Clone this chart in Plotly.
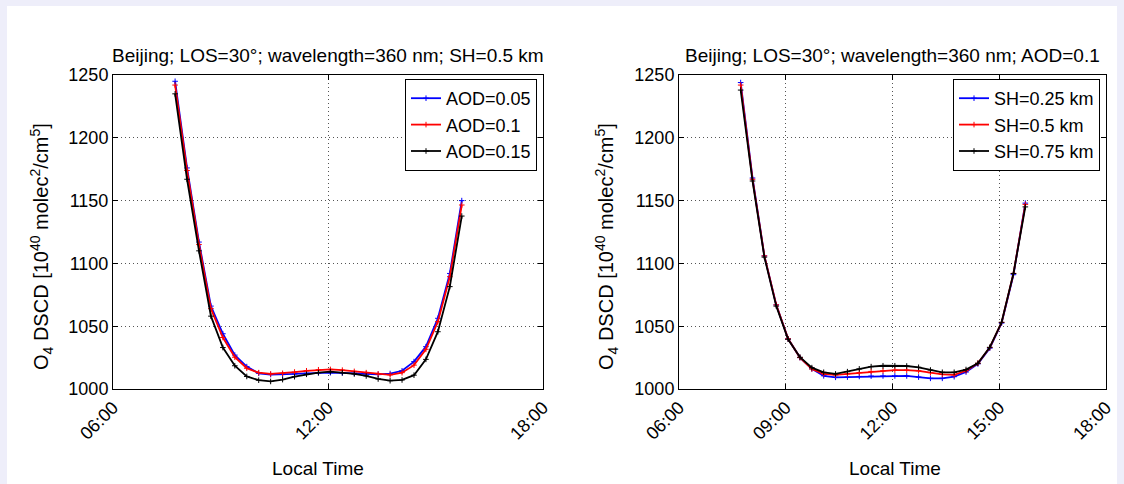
import plotly.graph_objects as go

W, H = 1124, 484

# ---- data ----
times = [7.733 + n / 3 for n in range(25)]  # local time, hours (20-min steps)

left_labels = ["AOD=0.05", "AOD=0.1", "AOD=0.15"]
aod_005 = [1245, 1176, 1117, 1066, 1044, 1027, 1017.8, 1012.5, 1011.5, 1011.5, 1012, 1012.5,
           1013, 1013, 1012.8, 1012.5, 1012, 1011.7, 1012.3, 1014.5, 1021.8, 1033.7, 1056.3, 1092, 1150]
aod_01 = [1242, 1174, 1115, 1064, 1041, 1025.3, 1016.5, 1013, 1012, 1012.5, 1013.5, 1014.5,
          1015.3, 1015.6, 1015, 1014, 1013, 1012, 1011.3, 1013, 1019, 1031.6, 1053.6, 1089.4, 1146.5]
aod_015 = [1235, 1167, 1110, 1058, 1033, 1018.5, 1010, 1007, 1006, 1007.5, 1009.8, 1011.7,
           1013, 1013.8, 1013, 1012, 1010.4, 1008, 1006.6, 1007.2, 1011, 1023.6, 1045.6, 1081.5, 1137.7]

right_labels = ["SH=0.25 km", "SH=0.5 km", "SH=0.75 km"]
sh_025 = [1244, 1168, 1106, 1067, 1040, 1025, 1016, 1010.5, 1009.3, 1009.5, 1010, 1010.3,
          1010.4, 1010.4, 1010.4, 1009.5, 1008.5, 1008.5, 1009.8, 1013.5, 1020, 1032.5, 1052.5, 1091, 1148]
sh_05 = [1242, 1167, 1106, 1067, 1040, 1025, 1016, 1012, 1011.2, 1012, 1013, 1014,
         1014.5, 1015, 1015, 1014.5, 1013, 1011.6, 1011.2, 1014.5, 1020.5, 1033, 1053, 1092, 1147]
sh_075 = [1238, 1165.6, 1105, 1066, 1039.6, 1025.3, 1017, 1013.3, 1012, 1013.8, 1016, 1017.8,
          1018.5, 1018.5, 1018.3, 1017.3, 1015.1, 1013.3, 1013.3, 1015.5, 1020.5, 1033.2, 1053.1, 1092, 1145]

colors = ["#0000FF", "#FF0000", "#000000"]
left_ticks = [6, 12, 18]
right_ticks = [6, 9, 12, 15, 18]
y_ticks = [1000, 1050, 1100, 1150, 1200, 1250]

def hhmm(v):
    return "%02d:00" % v

FONT = "Liberation Sans, Arial, sans-serif"
fig = go.Figure()

for ys, name, c in zip([aod_005, aod_01, aod_015], left_labels, colors):
    fig.add_trace(go.Scatter(x=times, y=ys, name=name, mode="lines+markers",
                             line=dict(color=c, width=1.8),
                             marker=dict(symbol="cross-thin", size=4, line=dict(color=c, width=1)),
                             xaxis="x", yaxis="y", legend="legend"))
for ys, name, c in zip([sh_025, sh_05, sh_075], right_labels, colors):
    fig.add_trace(go.Scatter(x=times, y=ys, name=name, mode="lines+markers",
                             line=dict(color=c, width=1.8),
                             marker=dict(symbol="cross-thin", size=4, line=dict(color=c, width=1)),
                             xaxis="x2", yaxis="y2", legend="legend2"))

def px(x):
    return x / W

def py(y):
    return 1 - y / H

axis_common = dict(showline=True, linecolor="#000", linewidth=1, mirror="ticks",
                   ticks="inside", ticklen=5, tickcolor="#000", showgrid=True,
                   gridcolor="#555", griddash="1px,3px", gridwidth=1, zeroline=False,
                   automargin=False,
                   tickfont=dict(family=FONT, size=18, color="#000"))

fig.update_layout(
    template="none",
    width=W, height=H, margin=dict(l=0, r=0, t=0, b=0, pad=0), autosize=False,
    paper_bgcolor="#EEEEFA", plot_bgcolor="#FFFFFF",
    font=dict(family=FONT, color="#000"),
    xaxis=dict(domain=[px(113), px(543)], range=[6, 18], tickvals=left_ticks,
               ticktext=[hhmm(v) for v in left_ticks], tickangle=-45, anchor="y", **axis_common),
    yaxis=dict(domain=[py(389), py(75)], range=[1000, 1250], tickvals=y_ticks, anchor="x", **axis_common),
    xaxis2=dict(domain=[px(679), px(1106)], range=[6, 18], tickvals=right_ticks,
                ticktext=[hhmm(v) for v in right_ticks], tickangle=-45, anchor="y2", **axis_common),
    yaxis2=dict(domain=[py(389), py(75)], range=[1000, 1250], tickvals=y_ticks, anchor="x2", **axis_common),
    legend=dict(x=px(537), y=py(79), xanchor="right", yanchor="top", bgcolor="#FFF",
                bordercolor="#000", borderwidth=1, font=dict(family=FONT, size=18),
                entrywidthmode="pixels", entrywidth=100),
    legend2=dict(x=px(1100), y=py(79), xanchor="right", yanchor="top", bgcolor="#FFF",
                 bordercolor="#000", borderwidth=1, font=dict(family=FONT, size=18),
                 entrywidthmode="pixels", entrywidth=113),
    shapes=[dict(type="rect", xref="paper", yref="paper", x0=px(7), x1=px(1117), y0=0, y1=py(6),
                 fillcolor="#FFFFFF", line=dict(width=0), layer="below")],
    showlegend=True,
)

ytitle = "O<sub>4</sub> DSCD [10<sup>40</sup> molec<sup>2</sup>/cm<sup>5</sup>]"
ann = [
    dict(text="Beijing; LOS=30°; wavelength=360 nm; SH=0.5 km", x=px(328), y=py(55), size=19),
    dict(text="Beijing; LOS=30°; wavelength=360 nm; AOD=0.1", x=px(892), y=py(55), size=19),
    dict(text="Local Time", x=px(318), y=py(468), size=19),
    dict(text="Local Time", x=px(895), y=py(468), size=19),
    dict(text=ytitle, x=px(41), y=py(247), textangle=-90, size=20),
    dict(text=ytitle, x=px(606), y=py(247), textangle=-90, size=20),
]
for a in ann:
    s = a.pop("size")
    a.update(xref="paper", yref="paper", showarrow=False, xanchor="center", yanchor="middle",
             font=dict(family=FONT, size=s, color="#000"))
fig.update_layout(annotations=ann)

fig.write_html("out.html")
